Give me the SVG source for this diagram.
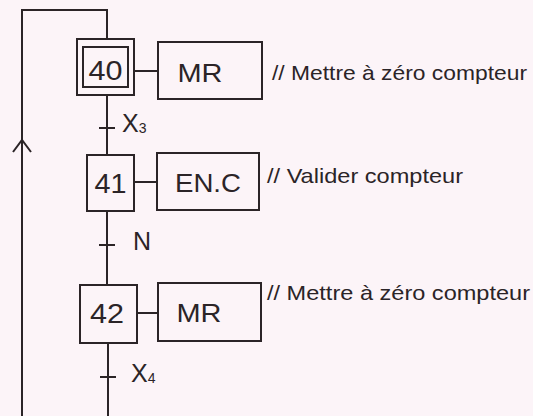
<svg xmlns="http://www.w3.org/2000/svg" width="533" height="416" viewBox="0 0 533 416">
<style>
.ln{stroke:#2b2427;stroke-width:2;fill:none}
.bx{stroke:#2b2427;stroke-width:2;fill:none}
.t{font-family:"Liberation Sans",Arial,sans-serif;fill:#2b2427}
.num{font-size:27px;text-anchor:middle}
.act{font-size:25px;text-anchor:middle}
.cmt{font-size:21px}
.cond{font-size:25px}
.sub{font-size:14px}
</style>
<rect width="533" height="416" fill="#fcf4f8"/>
<g id="connectors">
<polyline class="ln" points="107,39 107,10 22,10 22,416"/>
<polyline class="ln" points="13,152 22,140 31,152"/>
<line class="ln" x1="107" y1="95" x2="107" y2="155"/>
<line class="ln" x1="107" y1="211" x2="107" y2="285"/>
<line class="ln" x1="108" y1="343" x2="108" y2="416"/>
<line class="ln" x1="134" y1="71" x2="158" y2="71"/>
<line class="ln" x1="134" y1="182" x2="157" y2="182"/>
<line class="ln" x1="137" y1="313" x2="158" y2="313"/>
</g>
<g id="t40">
<line class="ln" x1="99" y1="128" x2="115" y2="128"/>
<text class="t cond" x="122" y="132">X<tspan class="sub" dy="1">3</tspan></text>
</g>
<g id="t41">
<line class="ln" x1="99" y1="245" x2="115" y2="245"/>
<text class="t cond" x="133" y="250">N</text>
</g>
<g id="t42">
<line class="ln" x1="100" y1="377" x2="116" y2="377"/>
<text class="t cond" x="131" y="382">X<tspan class="sub" dy="1">4</tspan></text>
</g>
<g id="step40">
<rect class="bx" x="77" y="39" width="57" height="56"/>
<rect class="bx" x="83" y="47" width="45" height="40"/>
<text class="t num" x="105.5" y="80" textLength="34" lengthAdjust="spacingAndGlyphs">40</text>
</g>
<g id="action40">
<rect class="bx" x="158" y="42" width="104" height="57"/>
<text class="t act" x="200" y="82" textLength="45" lengthAdjust="spacingAndGlyphs">MR</text>
<text class="t cmt" x="272" y="80" textLength="255" lengthAdjust="spacingAndGlyphs">// Mettre à zéro compteur</text>
</g>
<g id="step41">
<rect class="bx" x="87" y="155" width="47" height="56"/>
<text class="t num" x="110.5" y="193" textLength="32" lengthAdjust="spacingAndGlyphs">41</text>
</g>
<g id="action41">
<rect class="bx" x="157" y="153" width="102" height="57"/>
<text class="t act" x="208" y="192" textLength="66" lengthAdjust="spacingAndGlyphs">EN.C</text>
<text class="t cmt" x="267" y="183" textLength="196" lengthAdjust="spacingAndGlyphs">// Valider compteur</text>
</g>
<g id="step42">
<rect class="bx" x="80" y="285" width="57" height="58"/>
<text class="t num" x="107" y="323" textLength="34" lengthAdjust="spacingAndGlyphs">42</text>
</g>
<g id="action42">
<rect class="bx" x="158" y="283" width="103" height="58"/>
<text class="t act" x="199" y="322" textLength="45" lengthAdjust="spacingAndGlyphs">MR</text>
<text class="t cmt" x="267" y="300" textLength="263" lengthAdjust="spacingAndGlyphs">// Mettre à zéro compteur</text>
</g>
</svg>
